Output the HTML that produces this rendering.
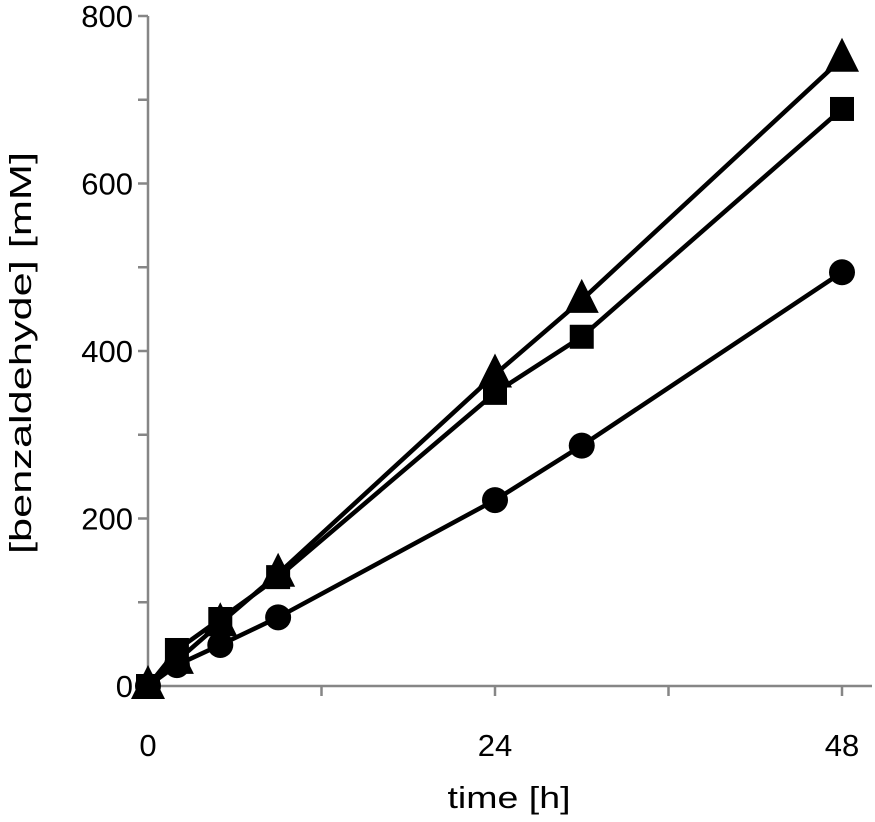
<!DOCTYPE html>
<html><head><meta charset="utf-8"><style>
body{margin:0;background:#fff}
svg text{font-family:"Liberation Sans",sans-serif;fill:#000}
</style></head><body>
<svg id="chart" width="875" height="817" viewBox="0 0 875 817" xmlns="http://www.w3.org/2000/svg">
<g id="axes"></g><g id="series"></g>
</svg>
<script>
const times = [0, 2, 5, 9, 24, 30, 48];
const circleVals = [0, 25, 49, 82, 222, 287, 494];
const squareVals = [0, 43, 80, 130, 350, 417, 689];
const triangleVals = [0, 30, 75, 134, 372, 461, 749];
const yTickLabels = [0, 200, 400, 600, 800];
const yMinorTicks = [100, 300, 500, 700];
const xTickLabels = [0, 24, 48];
const xMinorTicks = [12, 36];

const NS = "http://www.w3.org/2000/svg";
const x = t => 148 + t * (842 - 148) / 48;
const y = v => 686 - v * (686 - 16) / 800;
function mk(tag, attrs, parent){const e=document.createElementNS(NS,tag);for(const k in attrs)e.setAttribute(k,attrs[k]);parent.appendChild(e);return e;}
const axes = document.getElementById('axes');
const ser = document.getElementById('series');

let e = mk('line',{x1:148,y1:16,x2:148,y2:686,stroke:'#868686','stroke-width':2.5},axes);


e = mk('line',{x1:148,y1:686,x2:872,y2:686,stroke:'#868686','stroke-width':2.5},axes);


yTickLabels.concat(yMinorTicks).forEach(v=>{
  const t = mk('line',{x1:138,y1:y(v),x2:148,y2:y(v),stroke:'#868686','stroke-width':2.5},axes);
  
  
});
yTickLabels.forEach(v=>{
  const t = mk('text',{x:133,y:y(v)+11,'text-anchor':'end','font-size':31},axes);
  t.textContent = v;
  
  
});
xTickLabels.concat(xMinorTicks).forEach(v=>{
  const t = mk('line',{x1:x(v),y1:686,x2:x(v),y2:696,stroke:'#868686','stroke-width':2.5},axes);
  
  
});
xTickLabels.forEach(v=>{
  const t = mk('text',{x:x(v),y:756,'text-anchor':'middle','font-size':31},axes);
  t.textContent = v;
  
  
});
e = mk('text',{x:509,y:808,'text-anchor':'middle','font-size':31,textLength:123,lengthAdjust:'spacingAndGlyphs'},axes);
e.textContent = 'time [h]';


e = mk('text',{x:0,y:0,'text-anchor':'middle','font-size':31,textLength:402,lengthAdjust:'spacingAndGlyphs',transform:'translate(31,353) rotate(-90)'},axes);
e.textContent = '[benzaldehyde] [mM]';



function drawSeries(vals, shape, name){
  const g = mk('g',{},ser);
  
  
  const pts = times.map((t,i)=>x(t)+','+y(vals[i])).join(' ');
  const l = mk('polyline',{points:pts,fill:'none',stroke:'#000','stroke-width':4.5,'stroke-linejoin':'round'},g);
  
  
  times.forEach((t,i)=>{
    const cx=x(t), cy=y(vals[i]);
    let m;
    if(shape==='circle') m = mk('circle',{cx:cx,cy:cy,r:13,fill:'#000'},g);
    else if(shape==='square') m = mk('rect',{x:cx-12,y:cy-12,width:24,height:24,fill:'#000'},g);
    else m = mk('polygon',{points:`${cx},${cy-21} ${cx-17},${cy+13} ${cx+17},${cy+13}`,fill:'#000'},g);
    
    
  });
}
drawSeries(circleVals,'circle','circle');
drawSeries(squareVals,'square','square');
drawSeries(triangleVals,'triangle','triangle');
</script>
</body></html>
